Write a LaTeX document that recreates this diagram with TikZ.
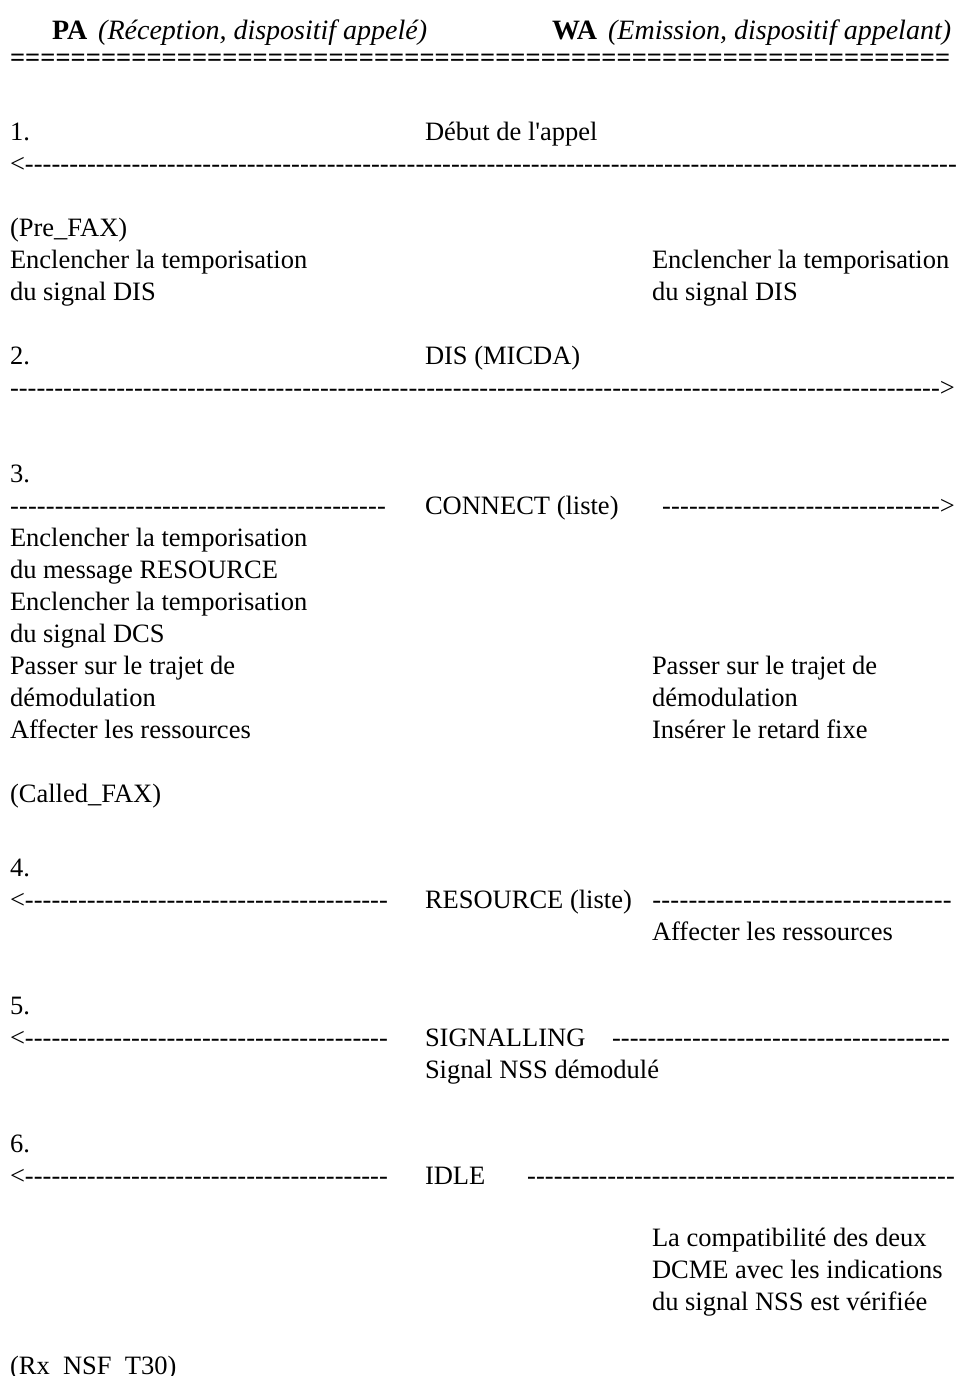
\documentclass[tikz,border=0pt]{standalone}
\usepackage{fontspec}
\setmainfont{Liberation Serif}
\newcommand{\dfill}[1]{\hbox to #1pt{\xleaders\hbox{-}\hfill}}
\newcommand{\efill}[1]{\hbox to #1pt{\xleaders\hbox{\bfseries =}\hfill}}
\begin{document}
\begin{tikzpicture}[x=1pt,y=-1pt,
  txt/.style={anchor=base west,inner sep=0pt,outer sep=0pt,font=\fontsize{26.5}{32}\selectfont},
  head/.style={anchor=base west,inner sep=0pt,outer sep=0pt,font=\fontsize{28}{32}\selectfont}]
\useasboundingbox (0,0) rectangle (957,1376);
% header
\node[head] (pa) at (52,39) {\textbf{PA}\hspace{11pt}\textit{(Réception, dispositif appelé)}};
\node[head] (wa) at (552,39) {\textbf{WA}\hspace{11pt}\textit{(Emission, dispositif appelant)}};
\node[txt] (eq) at (10,66) {\efill{940}};
% 1
\node[txt] (n1) at (10,140) {1.};
\node[txt] (m1) at (425,140) {Début de l\textquotesingle appel};
\node[txt] (a1) at (10,172) {<\dfill{932}};
\node[txt] (prefax) at (10,236) {(Pre\_FAX)};
\node[txt] (l1a) at (10,268) {Enclencher la temporisation};
\node[txt] (l1b) at (10,300) {du signal DIS};
\node[txt] (r1a) at (652,268) {Enclencher la temporisation};
\node[txt] (r1b) at (652,300) {du signal DIS};
% 2
\node[txt] (n2) at (10,364) {2.};
\node[txt] (m2) at (425,364) {DIS (MICDA)};
\node[txt] (a2) at (10,396) {\dfill{930}>};
% 3
\node[txt] (n3) at (10,482) {3.};
\node[txt] (a3l) at (10,514) {\dfill{376}};
\node[txt] (m3) at (425,514) {CONNECT (liste)};
\node[txt] (a3r) at (662,514) {\dfill{278}>};
\node[txt] (l3a) at (10,546) {Enclencher la temporisation};
\node[txt] (l3b) at (10,578) {du message RESOURCE};
\node[txt] (l3c) at (10,610) {Enclencher la temporisation};
\node[txt] (l3d) at (10,642) {du signal DCS};
\node[txt] (l3e) at (10,674) {Passer sur le trajet de};
\node[txt] (l3f) at (10,706) {démodulation};
\node[txt] (l3g) at (10,738) {Affecter les ressources};
\node[txt] (r3e) at (652,674) {Passer sur le trajet de};
\node[txt] (r3f) at (652,706) {démodulation};
\node[txt] (r3g) at (652,738) {Insérer le retard fixe};
\node[txt] (calledfax) at (10,802) {(Called\_FAX)};
% 4
\node[txt] (n4) at (10,876) {4.};
\node[txt] (a4l) at (10,908) {<\dfill{363}};
\node[txt] (m4) at (425,908) {RESOURCE (liste)};
\node[txt] (a4r) at (652,908) {\dfill{300}};
\node[txt] (r4) at (652,940) {Affecter les ressources};
% 5
\node[txt] (n5) at (10,1014) {5.};
\node[txt] (a5l) at (10,1046) {<\dfill{363}};
\node[txt] (m5) at (425,1046) {SIGNALLING};
\node[txt] (a5r) at (612,1046) {\dfill{338}};
\node[txt] (m5b) at (425,1078) {Signal NSS démodulé};
% 6
\node[txt] (n6) at (10,1152) {6.};
\node[txt] (a6l) at (10,1184) {<\dfill{363}};
\node[txt] (m6) at (425,1184) {IDLE};
\node[txt] (a6r) at (527,1184) {\dfill{428}};
\node[txt] (r6a) at (652,1246) {La compatibilité des deux};
\node[txt] (r6b) at (652,1278) {DCME avec les indications};
\node[txt] (r6c) at (652,1310) {du signal NSS est vérifiée};
\node[txt] (rx) at (10,1374) {(Rx\_NSF\_T30)};
\end{tikzpicture}
\end{document}
